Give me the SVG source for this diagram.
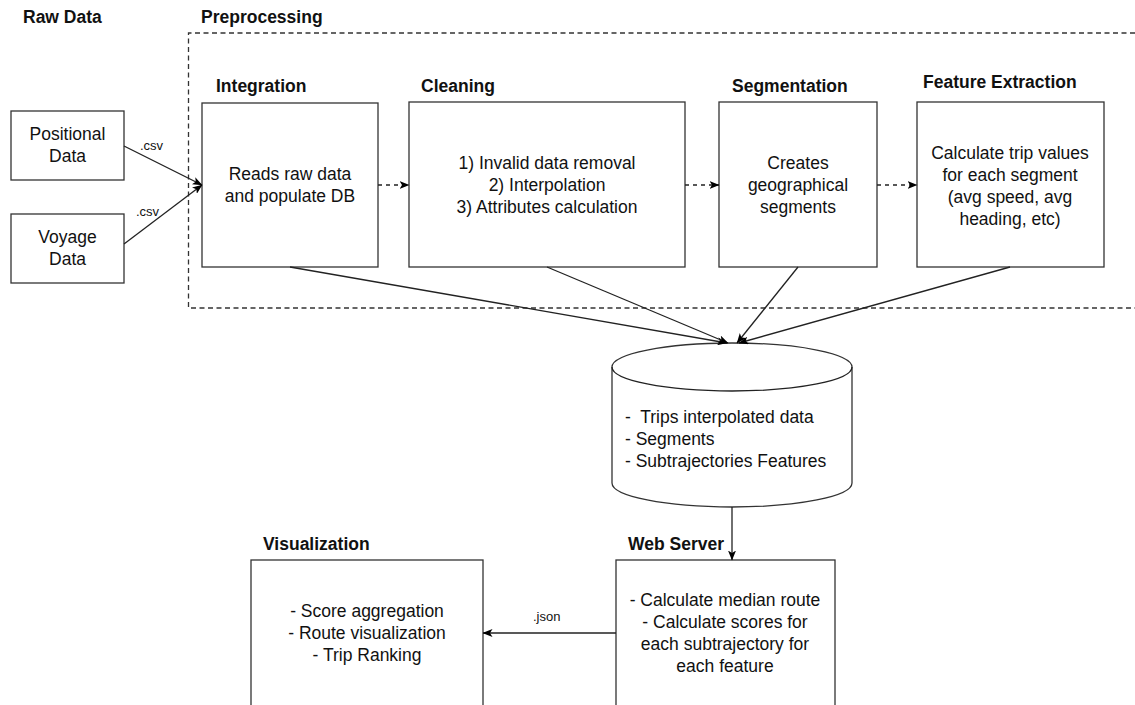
<svg xmlns="http://www.w3.org/2000/svg" width="1135" height="705" viewBox="0 0 1135 705">
<defs>
<marker id="arr" viewBox="0 0 10 8" refX="9.5" refY="4" markerWidth="10" markerHeight="8" markerUnits="userSpaceOnUse" orient="auto">
<path d="M0,0 L10,4 L0,8 L2.5,4 z" fill="#000"/>
</marker>
<style>
text{font-family:"Liberation Sans",Arial,sans-serif;fill:#111}
.t{font-size:17.5px;text-anchor:middle}
.tl{font-size:17.5px;white-space:pre}
.h{font-size:17.5px;font-weight:bold}
.s{font-size:13px}
.box{fill:#fff;stroke:#333;stroke-width:1.3}
.ln{fill:none;stroke:#222;stroke-width:1.3}
.dash{fill:none;stroke:#222;stroke-width:1.3;stroke-dasharray:4 4}
</style>
</defs>
<rect width="1135" height="705" fill="#fff"/>

<g id="labels">
<text class="h" x="23" y="23">Raw Data</text>
<text class="h" x="201" y="23">Preprocessing</text>
</g>

<g id="preprocessing">
<path d="M1135,33 H188.5 V308 H1135" fill="none" stroke="#333" stroke-width="1.3" stroke-dasharray="5 3.5"/>
</g>

<g id="positional">
<rect class="box" x="11" y="111" width="113" height="69"/>
<text class="t" x="67.5" y="140">Positional</text>
<text class="t" x="67.5" y="162">Data</text>
</g>
<g id="voyage">
<rect class="box" x="11" y="214" width="113" height="69"/>
<text class="t" x="67.5" y="243">Voyage</text>
<text class="t" x="67.5" y="265">Data</text>
</g>

<g id="integration">
<text class="h" x="216" y="92">Integration</text>
<rect class="box" x="202" y="103" width="176" height="164"/>
<text class="t" x="290" y="180">Reads raw data</text>
<text class="t" x="290" y="202">and populate DB</text>
</g>

<g id="cleaning">
<text class="h" x="421" y="92">Cleaning</text>
<rect class="box" x="409" y="102" width="276" height="165"/>
<text class="t" x="547" y="169">1) Invalid data removal</text>
<text class="t" x="547" y="191">2) Interpolation</text>
<text class="t" x="547" y="213">3) Attributes calculation</text>
</g>

<g id="segmentation">
<text class="h" x="732" y="92">Segmentation</text>
<rect class="box" x="719" y="102" width="158" height="165"/>
<text class="t" x="798" y="169">Creates</text>
<text class="t" x="798" y="191">geographical</text>
<text class="t" x="798" y="213">segments</text>
</g>

<g id="feature">
<text class="h" x="923" y="88">Feature Extraction</text>
<rect class="box" x="917" y="102" width="187" height="165"/>
<text class="t" x="1010" y="159">Calculate trip values</text>
<text class="t" x="1010" y="181">for each segment</text>
<text class="t" x="1010" y="203">(avg speed, avg</text>
<text class="t" x="1010" y="225">heading, etc)</text>
</g>

<g id="database">
<path class="box" d="M612,367 A120,24 0 0 1 852,367 V483 A120,24 0 0 1 612,483 Z"/>
<path class="ln" d="M612,367 A120,24 0 0 0 852,367"/>
<text class="tl" x="625" y="423">-  Trips interpolated data</text>
<text class="tl" x="625" y="445">- Segments</text>
<text class="tl" x="625" y="467">- Subtrajectories Features</text>
</g>

<g id="webserver">
<text class="h" x="628" y="550">Web Server</text>
<rect class="box" x="616" y="560" width="219" height="150"/>
<text class="t" x="725" y="606">- Calculate median route</text>
<text class="t" x="725" y="628">- Calculate scores for</text>
<text class="t" x="725" y="650">each subtrajectory for</text>
<text class="t" x="725" y="672">each feature</text>
</g>

<g id="visualization">
<text class="h" x="263" y="550">Visualization</text>
<rect class="box" x="251" y="560" width="232" height="150"/>
<text class="t" x="367" y="617">- Score aggregation</text>
<text class="t" x="367" y="639">- Route visualization</text>
<text class="t" x="367" y="661">- Trip Ranking</text>
</g>

<g id="connectors">
<line class="ln" x1="124" y1="146" x2="202" y2="185" marker-end="url(#arr)"/>
<line class="ln" x1="124" y1="244" x2="202" y2="185" marker-end="url(#arr)"/>
<text class="s" x="140" y="150">.csv</text>
<text class="s" x="136" y="216">.csv</text>
<line class="dash" x1="378" y1="185" x2="409" y2="185" marker-end="url(#arr)"/>
<line class="dash" x1="685" y1="185" x2="719" y2="185" marker-end="url(#arr)"/>
<line class="dash" x1="877" y1="185" x2="917" y2="185" marker-end="url(#arr)"/>
<line class="ln" x1="290" y1="267" x2="727" y2="343" marker-end="url(#arr)"/>
<line class="ln" x1="547" y1="267" x2="728" y2="343" marker-end="url(#arr)"/>
<line class="ln" x1="798" y1="267" x2="737" y2="343" marker-end="url(#arr)"/>
<line class="ln" x1="1010" y1="267" x2="739" y2="343" marker-end="url(#arr)"/>
<line class="ln" x1="732" y1="507" x2="732" y2="560" marker-end="url(#arr)"/>
<line class="ln" x1="616" y1="633" x2="483" y2="633" marker-end="url(#arr)"/>
<text class="s" x="533" y="621">.json</text>
</g>
</svg>
